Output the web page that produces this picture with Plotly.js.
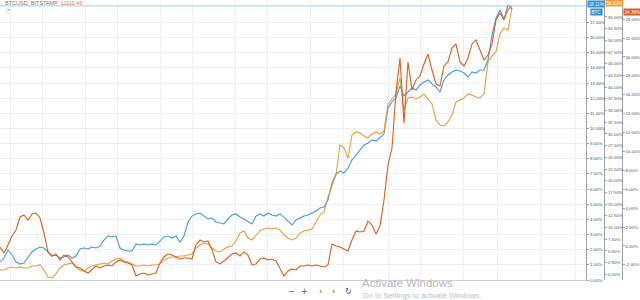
<!DOCTYPE html>
<html><head><meta charset="utf-8">
<script src="https://cdn.plot.ly/plotly-3.0.1.min.js"></script>
<style>html,body{margin:0;padding:0;background:#fff;overflow:hidden}#chart{width:640px;height:300px}</style>
</head><body><div id="chart"></div>
<script>
const blueSeries = [
  1.19,1.45,1.98,1.65,1.19,1.06,1.12,1.45,
  1.85,2.05,2.18,2.11,1.85,1.58,1.65,1.45,
  1.52,1.65,1.45,1.58,2.05,2.11,2.05,2.18,
  2.11,2.24,2.64,2.90,2.84,2.90,2.11,1.98,
  1.91,1.91,2.38,2.31,2.38,2.31,2.38,2.31,
  2.57,2.84,2.90,2.77,2.90,2.51,2.90,3.83,
  4.22,4.36,4.42,4.22,4.03,4.09,3.83,3.76,
  3.70,4.03,4.29,4.36,4.16,4.03,3.89,3.70,
  4.22,4.36,4.22,4.42,4.29,4.22,4.36,4.09,
  3.89,3.63,3.96,4.09,4.22,4.29,4.42,4.55,
  4.75,4.82,5.28,6.40,7.00,7.19,7.06,7.39,
  7.92,8.25,8.58,8.91,9.04,9.24,9.17,9.44,
  9.64,11.35,11.75,12.01,12.81,12.15,12.41,12.67,
  12.54,12.87,13.07,13.20,12.94,12.74,12.41,13.20,
  13.53,13.73,13.86,13.80,13.66,13.40,13.73,13.66,
  13.86,13.86,14.52,16.17,17.29,17.82,17.23,17.82,
  18.09
];
const orangeSeries = [
  0.94,0.94,1.37,1.58,1.37,1.58,1.37,1.37,
  1.79,1.79,2.01,0.94,-0.56,-0.77,0.09,1.37,
  2.01,2.22,2.44,1.58,0.94,0.73,1.37,1.79,
  2.01,2.22,2.44,2.22,2.86,3.29,3.50,2.86,
  2.65,2.22,1.79,1.79,2.01,1.79,2.01,2.01,
  2.22,3.08,3.50,3.72,3.72,3.93,3.93,4.15,
  4.36,5.64,6.28,6.71,6.50,5.64,5.00,4.79,
  5.43,5.85,6.07,7.14,8.85,9.27,7.78,7.35,
  8.21,9.27,9.70,9.91,9.70,9.91,9.49,8.42,
  7.78,7.35,7.78,8.85,9.27,9.49,9.70,11.20,
  12.69,13.33,16.54,18.89,21.24,27.65,27.01,24.87,
  29.79,30.43,30.21,29.57,29.15,30.00,30.43,30.00,
  30.64,36.41,37.48,38.55,41.97,35.13,37.69,37.91,
  37.48,37.91,38.55,37.48,36.41,32.99,31.92,31.71,
  32.56,34.06,36.84,37.26,37.69,38.55,38.33,37.91,
  37.69,38.55,45.38,46.67,47.52,51.37,52.65,52.22,
  56.92
];
const redSeries = [
  -0.11,-0.74,0.11,1.06,1.69,3.07,3.28,2.75,
  3.39,3.49,2.96,1.38,-0.63,-1.06,-0.85,-1.48,
  -0.95,-1.16,-1.69,-2.22,-2.33,-2.65,-2.86,-2.54,
  -2.12,-2.33,-2.12,-2.01,-2.12,-1.69,-1.48,-1.69,
  -1.80,-2.01,-3.17,-2.96,-2.86,-3.07,-2.96,-2.86,
  -1.80,-1.16,-0.85,-0.95,-1.16,-1.38,-1.27,-1.27,
  -1.38,0.11,0.63,0.42,0.53,-0.42,-1.69,-1.90,
  -1.59,-1.27,-0.85,-0.74,-1.06,-0.63,-0.95,-2.01,
  -1.90,-1.38,-1.27,-1.48,-1.38,-1.59,-2.33,-3.17,
  -2.65,-2.43,-2.54,-2.12,-2.12,-2.01,-2.12,-2.01,
  -2.12,-2.22,-2.01,0.21,0.00,-0.11,-0.32,-0.53,
  0.63,1.59,1.48,1.59,2.65,2.22,1.27,2.12,
  4.87,8.57,10.37,16.30,19.89,13.02,19.47,16.51,
  17.57,17.99,19.26,20.32,18.62,17.14,16.93,19.05,
  19.47,20.95,21.38,19.47,19.05,19.89,21.38,21.80,
  20.74,19.68,20.21,21.38,23.92,24.66,23.92,25.50,
  25.08
];
const symbolText = 'BTCUSD, BITSTAMP';
const priceText = '11110.46';
const blueTag = '18.11%';
const blueName = 'BTC';
const orangeTag = '56.62%';
const redTag = '24.36%';
const toolbarLabels = ['−', '+', '‹', '›', '↻'];
const watermarkTitle = 'Activate Windows';
const watermarkSub = 'Go to Settings to activate Windows.';

const bars = blueSeries.map((_, i) => i);

const BLUE = '#4b9ad0', ORANGE = '#e3a03e', RED = '#d4611f';
const W = 640, PLOT_R = 586, PLOT_H = 280;
const px = v => v / W;
const py = v => 1 - v / PLOT_H;
const tickFont = {family: 'Liberation Sans Narrow, Arial Narrow, sans-serif', size: 4.4, color: '#555'};

function ticksFor(lo, hi, step) {
  const vals = [], text = [];
  for (let v = lo; v <= hi + 1e-9; v += step) { vals.push(v); text.push(v.toFixed(2) + '%'); }
  return {tickmode: 'array', tickvals: vals, ticktext: text};
}

const traces = [
  {x: bars, y: blueSeries, type: 'scatter', mode: 'lines', yaxis: 'y', line: {color: BLUE, width: 1.1}, hoverinfo: 'skip'},
  {x: bars, y: orangeSeries, type: 'scatter', mode: 'lines', yaxis: 'y2', line: {color: ORANGE, width: 1.1}, hoverinfo: 'skip'},
  {x: bars, y: redSeries, type: 'scatter', mode: 'lines', yaxis: 'y3', line: {color: RED, width: 1.1}, hoverinfo: 'skip'}
];

const gridBars = [2.5, 10.5, 21.25, 29.25, 40, 48, 58.75, 66.75, 77.5, 85.75, 97, 105, 115.75, 124.25, 135, 143.75];

function tag(text, x, y, bg) {
  return {xref: 'paper', yref: 'paper', x: px(x), y: py(y), xanchor: 'left', yanchor: 'middle',
    text: text, showarrow: false, bgcolor: bg, borderpad: 0.5,
    font: {family: 'Liberation Sans Narrow, Arial Narrow, sans-serif', size: 4.6, color: '#fff'}};
}

const annotations = [
  {xref: 'paper', yref: 'paper', x: px(3), y: py(3.5), xanchor: 'left', yanchor: 'middle', showarrow: false,
   text: symbolText + '  <span style="color:#e07a3a">' + priceText + '</span>',
   font: {family: 'Liberation Sans, Arial, sans-serif', size: 5.5, color: '#777'}},
  {xref: 'paper', yref: 'paper', x: px(8), y: py(10.5), xanchor: 'center', yanchor: 'middle', showarrow: false,
   text: '⌃', bgcolor: '#f2f2f2', borderpad: 0.5, font: {size: 5, color: '#666'}},
  tag(blueTag, 587, 4.5, '#2a8ee0'),
  tag(orangeTag, 605, 3, '#f09a30'),
  tag(blueName, 590, 12, '#2a8ee0'),
  tag(redTag, 623, 12, '#e0581c')
];
const toolbarX = [291, 304, 320, 333, 348];
toolbarLabels.forEach((t, i) => annotations.push({xref: 'paper', yref: 'paper', x: px(toolbarX[i]), y: py(291.5),
  xanchor: 'center', yanchor: 'middle', showarrow: false, text: t,
  font: {family: 'DejaVu Sans, sans-serif', size: 8, color: '#555'}}));
annotations.push({xref: 'paper', yref: 'paper', x: px(360), y: py(283), xanchor: 'left', yanchor: 'middle',
  showarrow: false, text: watermarkTitle, font: {family: 'Liberation Sans, Arial, sans-serif', size: 11.5, color: '#b8b8b8'}});
annotations.push({xref: 'paper', yref: 'paper', x: px(361), y: py(295.5), xanchor: 'left', yanchor: 'middle',
  showarrow: false, text: watermarkSub, font: {family: 'Liberation Sans, Arial, sans-serif', size: 7.5, color: '#c0c0c0'}});

const axisCommon = {side: 'right', zeroline: false, showline: true, linecolor: '#9aa3ad', linewidth: 1,
  ticks: 'outside', ticklen: 2, tickcolor: '#9aa3ad', tickfont: tickFont, fixedrange: true};

const layout = {
  width: 640, height: 300,
  margin: {l: 0, r: 0, t: 0, b: 20},
  paper_bgcolor: '#fff', plot_bgcolor: '#fff',
  showlegend: false,
  xaxis: {domain: [0, PLOT_R / W], range: [0, PLOT_R / 4], tickvals: gridBars, showticklabels: false, ticks: '',
    showgrid: true, gridcolor: '#eef0f4', gridwidth: 1, zeroline: false, showline: true, linecolor: '#d0d0d0', linewidth: 1, fixedrange: true},
  yaxis: Object.assign({}, axisCommon, ticksFor(0, 17, 1), {anchor: 'x', range: [0, 18.48],
    showgrid: true, gridcolor: '#eef0f4'}),
  yaxis2: Object.assign({}, axisCommon, ticksFor(-2.5, 55, 2.5), {anchor: 'free', overlaying: 'y', position: 604 / W,
    range: [-1.20, 58.63], showgrid: false}),
  yaxis3: Object.assign({}, axisCommon, ticksFor(-4, 24, 2), {anchor: 'free', overlaying: 'y', position: 621.5 / W,
    range: [-3.60, 26.03], showgrid: false}),
  shapes: [
    {type: 'line', xref: 'paper', x0: 0, x1: PLOT_R / W, yref: 'y', y0: blueSeries[blueSeries.length - 1], y1: blueSeries[blueSeries.length - 1],
     line: {color: '#a9cdee', width: 1}}
  ],
  annotations: annotations
};

Plotly.newPlot('chart', traces, layout, {displayModeBar: false, staticPlot: true});
</script>
</body></html>
